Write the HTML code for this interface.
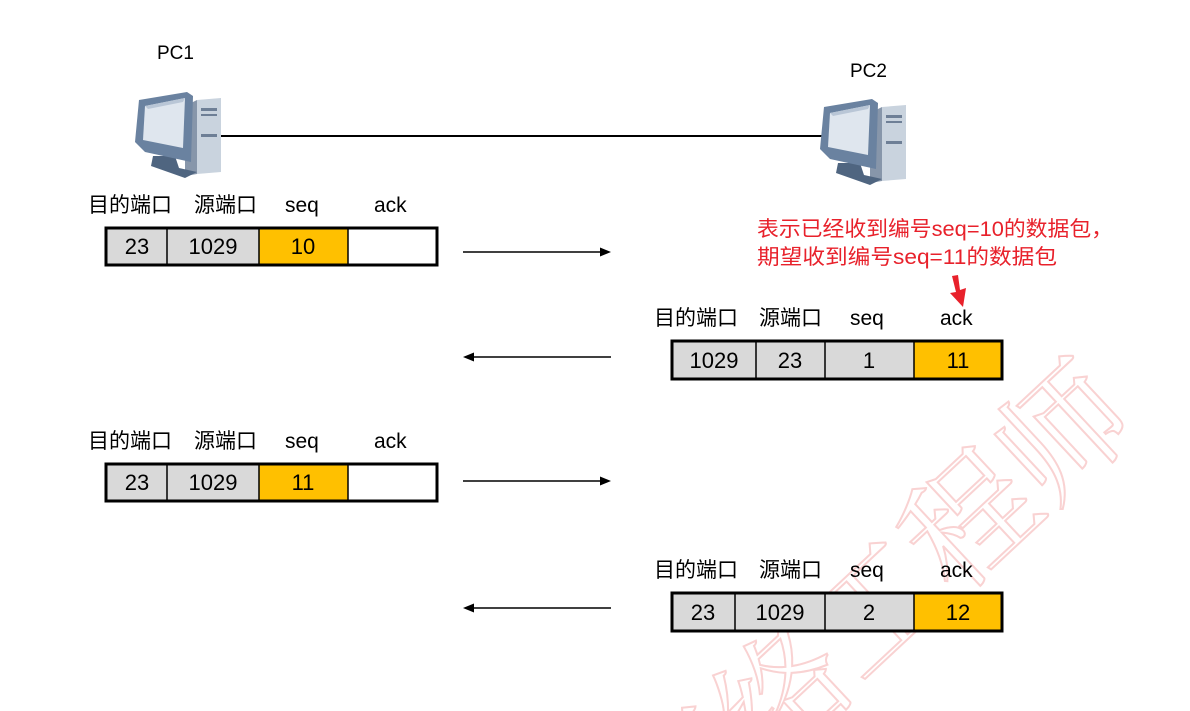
<!DOCTYPE html>
<html><head><meta charset="utf-8"><style>
html,body{margin:0;padding:0;background:#fff;overflow:hidden;width:1190px;height:711px;}
svg{display:block;overflow:hidden;}
text{font-family:"Liberation Sans","Noto Sans CJK SC",sans-serif;}
</style></head><body>
<svg width="1190" height="711" viewBox="0 0 1190 711" xmlns="http://www.w3.org/2000/svg">
<defs>
<clipPath id="clip"><rect x="0" y="0" width="1190" height="711"/></clipPath>
<g id="pc">
  <path d="M62 8 L86 6 L86 80 L62 82 Z" fill="#c9d3de"/>
  <path d="M50 14 L62 8 L62 82 L50 84 Z" fill="#8796aa"/>
  <rect x="66" y="16" width="16" height="3" fill="#6e7f96"/>
  <rect x="66" y="22" width="16" height="2" fill="#6e7f96"/>
  <rect x="66" y="42" width="16" height="3" fill="#6e7f96"/>
  <path d="M18 64 L40 64 L44 76 L62 80 L50 86 L16 74 Z" fill="#4f6580"/>
  <path d="M4 8 L52 0 L58 4 L56 70 L10 60 L0 50 Z" fill="#6a82a0"/>
  <path d="M10 14 L50 6 L48 56 L8 48 Z" fill="#dfe6ee"/>
  <path d="M10 14 L50 6 L48 10 L13 17 Z" fill="#b9c6d6"/>
</g>
</defs>

<!-- watermark -->
<g clip-path="url(#clip)">
<text x="870" y="600" transform="rotate(-43 870 600)" font-size="128" text-anchor="middle" dominant-baseline="central" fill="none" stroke="#f9d2d2" stroke-width="2" style="font-family:'Noto Serif CJK SC',serif">网络工程师</text>
</g>

<text x="157" y="59" font-size="19" fill="#000">PC1</text>
<text x="850" y="77" font-size="19" fill="#000">PC2</text>
<line x1="215" y1="136" x2="826" y2="136" stroke="#000" stroke-width="2"/>
<use href="#pc" x="135" y="92"/>
<use href="#pc" x="820" y="99"/>

<!-- table 1 -->
<g font-size="21" fill="#000">
<text x="88" y="212">目的端口</text><text x="194" y="212">源端口</text><text x="285" y="212">seq</text><text x="374" y="212">ack</text>
</g>
<rect x="106" y="228" width="331" height="37" fill="#fff" stroke="#000" stroke-width="3"/>
<rect x="107.5" y="229.5" width="151" height="34" fill="#d9d9d9"/>
<rect x="259" y="229.5" width="89" height="34" fill="#ffc000"/>
<g stroke="#000" stroke-width="1.5"><line x1="167" y1="228" x2="167" y2="265"/><line x1="259" y1="228" x2="259" y2="265"/><line x1="348" y1="228" x2="348" y2="265"/></g>
<g font-size="22" text-anchor="middle"><text x="137" y="254">23</text><text x="213" y="254">1029</text><text x="303" y="254">10</text></g>

<!-- table 3 -->
<g font-size="21" fill="#000">
<text x="88" y="448">目的端口</text><text x="194" y="448">源端口</text><text x="285" y="448">seq</text><text x="374" y="448">ack</text>
</g>
<rect x="106" y="464" width="331" height="37" fill="#fff" stroke="#000" stroke-width="3"/>
<rect x="107.5" y="465.5" width="151" height="34" fill="#d9d9d9"/>
<rect x="259" y="465.5" width="89" height="34" fill="#ffc000"/>
<g stroke="#000" stroke-width="1.5"><line x1="167" y1="464" x2="167" y2="501"/><line x1="259" y1="464" x2="259" y2="501"/><line x1="348" y1="464" x2="348" y2="501"/></g>
<g font-size="22" text-anchor="middle"><text x="137" y="490">23</text><text x="213" y="490">1029</text><text x="303" y="490">11</text></g>

<!-- table 2 -->
<g font-size="21" fill="#000">
<text x="654" y="325">目的端口</text><text x="759" y="325">源端口</text><text x="850" y="325">seq</text><text x="940" y="325">ack</text>
</g>
<rect x="672" y="341" width="330" height="38" fill="#d9d9d9" stroke="#000" stroke-width="3"/>
<rect x="914" y="342.5" width="86.5" height="35" fill="#ffc000"/>
<g stroke="#000" stroke-width="1.5"><line x1="756" y1="341" x2="756" y2="379"/><line x1="825" y1="341" x2="825" y2="379"/><line x1="914" y1="341" x2="914" y2="379"/></g>
<g font-size="22" text-anchor="middle"><text x="714" y="368">1029</text><text x="790" y="368">23</text><text x="869" y="368">1</text><text x="958" y="368">11</text></g>

<!-- table 4 -->
<g font-size="21" fill="#000">
<text x="654" y="577">目的端口</text><text x="759" y="577">源端口</text><text x="850" y="577">seq</text><text x="940" y="577">ack</text>
</g>
<rect x="672" y="593" width="330" height="38" fill="#d9d9d9" stroke="#000" stroke-width="3"/>
<rect x="914" y="594.5" width="86.5" height="35" fill="#ffc000"/>
<g stroke="#000" stroke-width="1.5"><line x1="735" y1="593" x2="735" y2="631"/><line x1="825" y1="593" x2="825" y2="631"/><line x1="914" y1="593" x2="914" y2="631"/></g>
<g font-size="22" text-anchor="middle"><text x="703" y="620">23</text><text x="780" y="620">1029</text><text x="869" y="620">2</text><text x="958" y="620">12</text></g>

<!-- arrows -->
<g stroke="#000" stroke-width="1.5">
<line x1="463" y1="252" x2="602" y2="252"/>
<line x1="463" y1="481" x2="602" y2="481"/>
<line x1="472" y1="357" x2="611" y2="357"/>
<line x1="472" y1="608" x2="611" y2="608"/>
</g>
<g fill="#000">
<path d="M611 252 L600 247.5 L600 256.5 Z"/>
<path d="M611 481 L600 476.5 L600 485.5 Z"/>
<path d="M463 357 L474 352.5 L474 361.5 Z"/>
<path d="M463 608 L474 603.5 L474 612.5 Z"/>
</g>

<!-- red note -->
<g font-size="21" fill="#e8212b">
<text x="757" y="236" textLength="356" lengthAdjust="spacingAndGlyphs">表示已经收到编号seq=10的数据包，</text>
<text x="757" y="264" textLength="300" lengthAdjust="spacingAndGlyphs">期望收到编号seq=11的数据包</text>
</g>
<path d="M952 276 L958 275 L960 290 L966 288 L963 307 L950 293 L956 292 Z" fill="#e8212b"/>
</svg>
</body></html>
